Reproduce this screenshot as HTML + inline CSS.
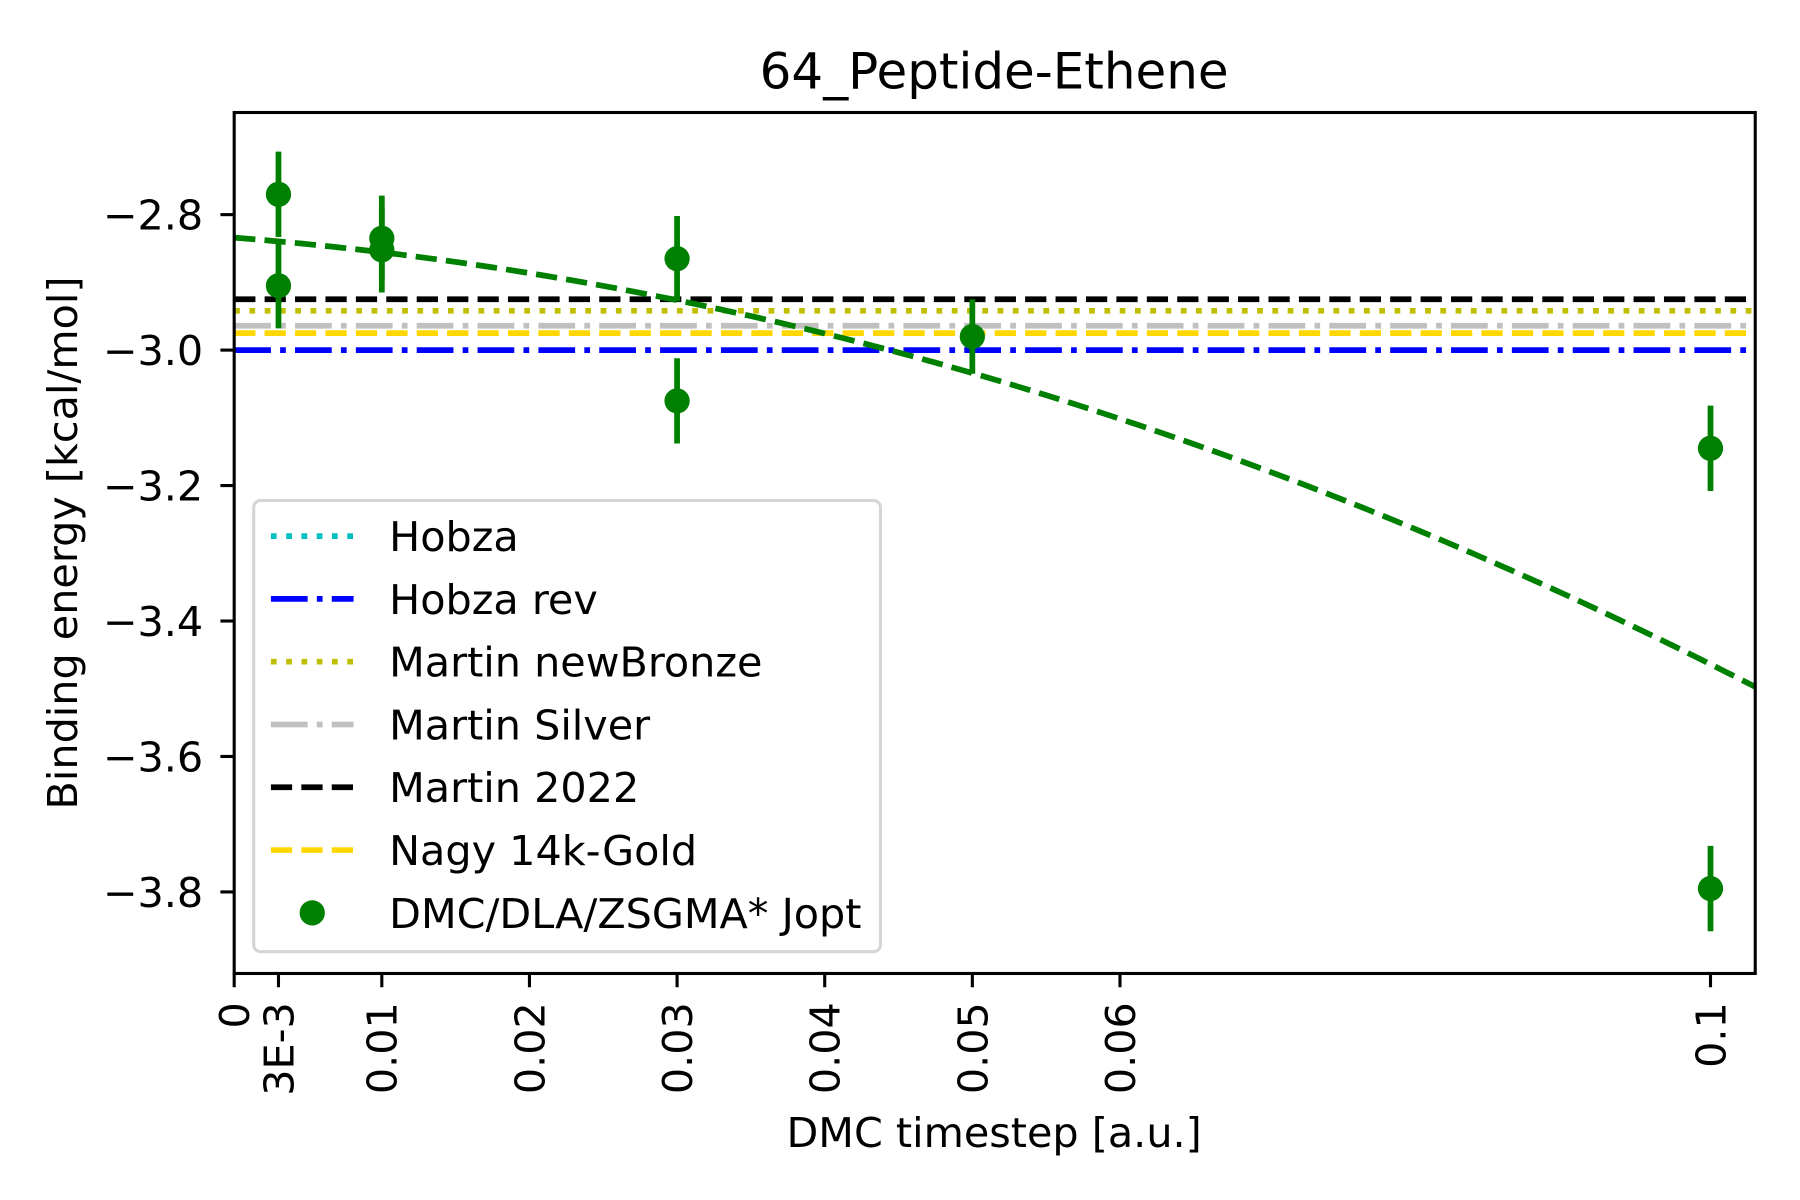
<!DOCTYPE html>
<html><head><meta charset="utf-8"><style>
html,body{margin:0;padding:0;background:#fff;}
svg{display:block;font-family:"DejaVu Sans","Liberation Sans",sans-serif;}
</style></head><body>
<svg id="chart" width="1800" height="1200" viewBox="0 0 1568 1045.33" xmlns="http://www.w3.org/2000/svg">
<rect width="1568" height="1046" fill="#fff"/>
<text x="866" y="77" font-size="43.5" text-anchor="middle">64_Peptide-Ethene</text>
<g id="plot"></g>
<rect x="204" y="98" width="1325" height="750" fill="none" stroke="#000" stroke-width="2.7"/>
<g id="xticks"></g>
<g id="yticks"></g>
<text x="866" y="999" font-size="36" text-anchor="middle">DMC timestep [a.u.]</text>
<text transform="translate(67,473) rotate(-90)" font-size="36" text-anchor="middle">Binding energy [kcal/mol]</text>
<g id="legend"></g>
</svg>
<script>
const xTickVals=[0,0.003,0.01,0.02,0.03,0.04,0.05,0.06,0.1];
const xTickLabels=["0","3E-3","0.01","0.02","0.03","0.04","0.05","0.06","0.1"];
const yTickVals=[-2.8,-3.0,-3.2,-3.4,-3.6,-3.8];
const yTickLabels=["\u22122.8","\u22123.0","\u22123.2","\u22123.4","\u22123.6","\u22123.8"];
const ptX=[0.003,0.003,0.01,0.01,0.03,0.03,0.05,0.1,0.1];
const ptY=[-2.77,-2.905,-2.835,-2.852,-2.865,-3.075,-2.98,-3.145,-3.795];
const ptErr=[0.063,0.063,0.063,0.063,0.063,0.063,0.055,0.063,0.063];
const refNames=["Hobza","Hobza rev","Martin newBronze","Martin Silver","Martin 2022","Nagy 14k-Gold"];
const refVals=[null,-3.0,-2.942,-2.964,-2.925,-2.975];
const fitCoef=[-2.834,-1.70,-45.98];

const X0=204,X1=1529,Y0=98,Y1=848;
const xMin=0,xMax=0.10303,yMax=-2.6492,yMin=-3.9204;
const xs=v=>X0+(v-xMin)/(xMax-xMin)*(X1-X0);
const ys=v=>Y0+(yMax-v)/(yMax-yMin)*(Y1-Y0);
const NS="http://www.w3.org/2000/svg";
function mk(tag,attrs,parent){const e=document.createElementNS(NS,tag);for(const k in attrs)e.setAttribute(k,attrs[k]);parent.appendChild(e);return e;}
const LW=5;
const styles=[
 {c:"#00bfbf",d:"5,8.3"},{c:"#0000ff",d:"32,8,5,8"},{c:"#bfbf00",d:"5,8.3"},
 {c:"#c0c0c0",d:"32,8,5,8"},{c:"#000000",d:"18.5,8"},{c:"#ffd700",d:"18.5,8"}];
const plot=document.getElementById('plot');
refVals.forEach((v,i)=>{
 if(v===null) return;
 const l=mk('line',{x1:X0,x2:X1,y1:ys(v),y2:ys(v),stroke:styles[i].c,'stroke-width':LW,'stroke-dasharray':styles[i].d},plot);
 
 
});
let d="";
for(let k=0;k<=200;k++){const x=xMin+(xMax-xMin)*k/200;const y=fitCoef[0]+fitCoef[1]*x+fitCoef[2]*x*x;d+=(k?"L":"M")+xs(x).toFixed(2)+","+ys(y).toFixed(2);}
const fit=mk('path',{d:d,fill:"none",stroke:"#008000",'stroke-width':LW,'stroke-dasharray':"18.5,8"},plot);


ptX.forEach((x,i)=>{
 const g=mk('g',{},plot);
 
 
 mk('line',{x1:xs(x),x2:xs(x),y1:ys(ptY[i]+ptErr[i]),y2:ys(ptY[i]-ptErr[i]),stroke:"#008000",'stroke-width':LW},g);
 mk('circle',{cx:xs(x),cy:ys(ptY[i]),r:11,fill:"#008000"},g);
});
const xt=document.getElementById('xticks');
xTickVals.forEach((v,i)=>{
 const x=xs(v);
 const t=mk('line',{x1:x,x2:x,y1:Y1,y2:Y1+12,stroke:"#000",'stroke-width':2.7},xt);
 
 
 const tx=mk('text',{transform:`translate(${x+13},873) rotate(-90)`,'font-size':36,'text-anchor':'end'},xt);
 tx.textContent=xTickLabels[i];
 
 
});
const yt=document.getElementById('yticks');
yTickVals.forEach((v,i)=>{
 const y=ys(v);
 const t=mk('line',{x1:X0-12,x2:X0,y1:y,y2:y,stroke:"#000",'stroke-width':2.7},yt);
 
 
 const tx=mk('text',{x:X0-27,y:y+13,'font-size':36,'text-anchor':'end'},yt);
 tx.textContent=yTickLabels[i];
 
 
});
const lg=document.getElementById('legend');
mk('rect',{x:221,y:436,width:546,height:393,rx:6,fill:"#fff",'fill-opacity':0.8,stroke:"#d5d5d5",'stroke-width':2.7},lg);
const names=refNames.concat(["DMC/DLA/ZSGMA* Jopt"]);
names.forEach((n,i)=>{
 const y=467+i*54.7;
 const g=mk('g',{},lg);
 
 
 if(i<6) mk('line',{x1:236,x2:308,y1:y,y2:y,stroke:styles[i].c,'stroke-width':LW,'stroke-dasharray':styles[i].d},g);
 else mk('circle',{cx:272,cy:y,r:11,fill:"#008000"},g);
 const t=mk('text',{x:339,y:y+13,'font-size':36},g);
 t.textContent=n;
});
</script>
</body></html>
